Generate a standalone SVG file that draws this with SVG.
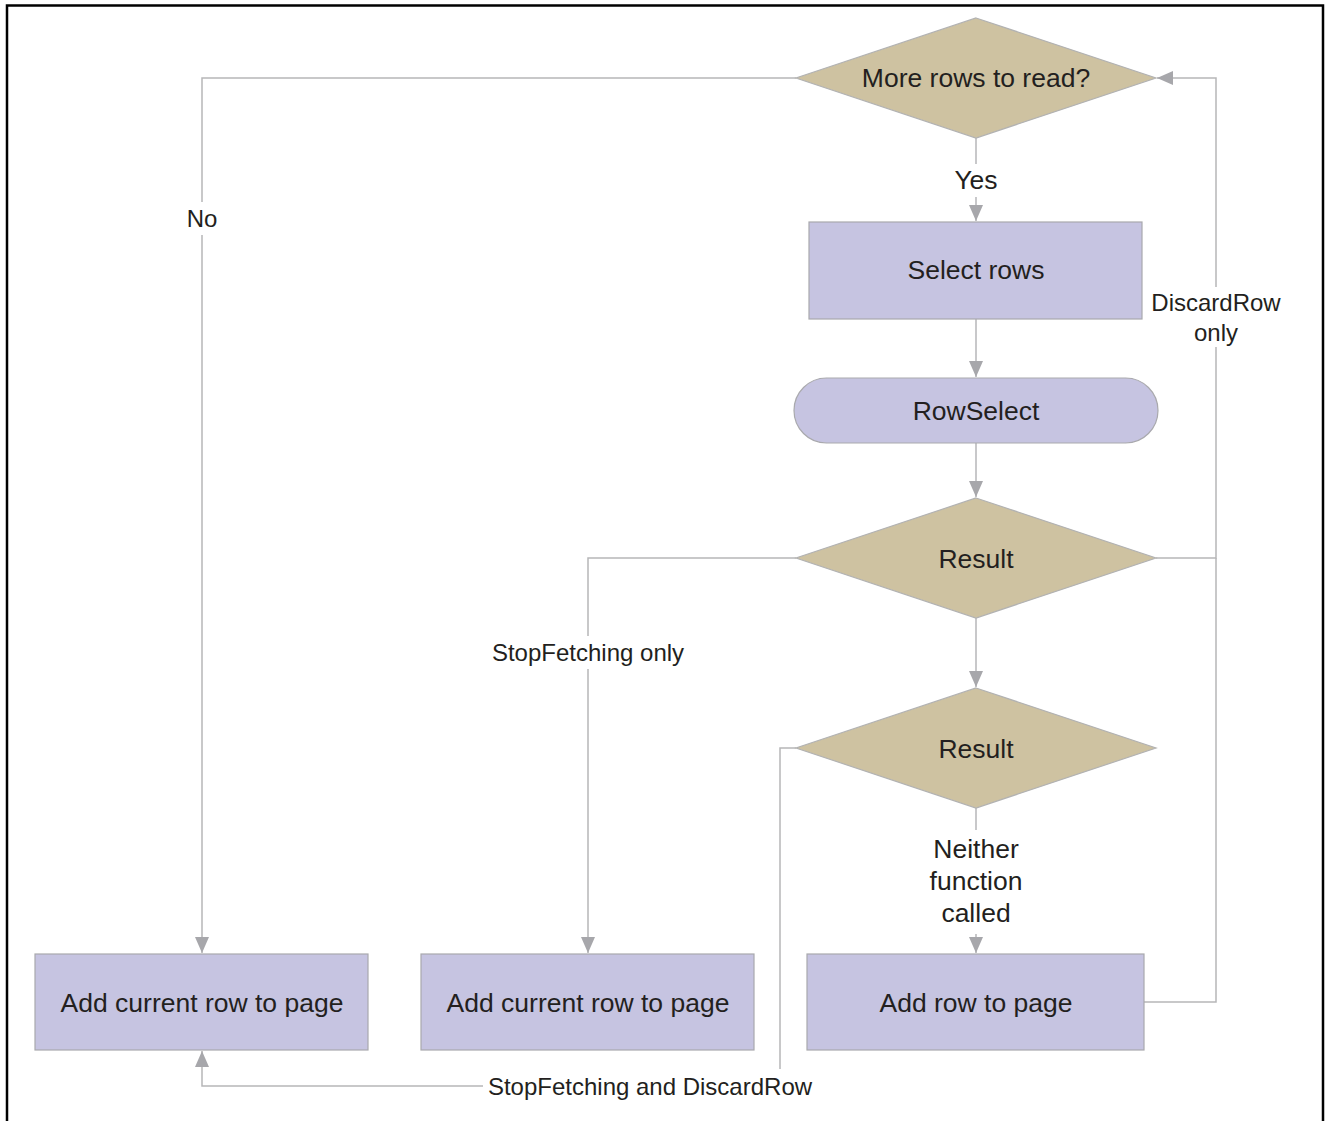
<svg xmlns="http://www.w3.org/2000/svg" width="1325" height="1121" viewBox="0 0 1325 1121">
  <defs>
    <marker id="arrow" viewBox="0 0 16 14" refX="16" refY="7" markerWidth="16" markerHeight="14" markerUnits="userSpaceOnUse" orient="auto">
      <path d="M0,0 L16,7 L0,14 Z" fill="#a7a7ab"/>
    </marker>
    <style>
      .box { fill: #c6c4e1; stroke: #a9a9ad; stroke-width: 1.2; }
      .dec { fill: #cec2a1; stroke: #b2b2b2; stroke-width: 1.2; }
      .lbl { font-family: "Liberation Sans", Arial, sans-serif; font-size: 26.5px; fill: #231f20; text-anchor: middle; }
      .sm { font-size: 24px; }
      .wire { fill: none; stroke: #b6b6b8; stroke-width: 1.5; }
      .bg { fill: #ffffff; }
    </style>
  </defs>

  <rect x="0" y="0" width="1325" height="1121" fill="#ffffff"/>
  <!-- outer frame (open at the bottom) -->
  <path d="M7,1121 V5.5 H1323 V1121" fill="none" stroke="#000000" stroke-width="2.5"/>

  <g id="connectors">
    <!-- Yes -->
    <path class="wire" d="M976,138 V221" marker-end="url(#arrow)"/>
    <!-- Select rows -> RowSelect -->
    <path class="wire" d="M976,319 V377" marker-end="url(#arrow)"/>
    <!-- RowSelect -> Result -->
    <path class="wire" d="M976,443 V497" marker-end="url(#arrow)"/>
    <!-- Result -> Result -->
    <path class="wire" d="M976,618 V687" marker-end="url(#arrow)"/>
    <!-- Neither function called -->
    <path class="wire" d="M976,808 V953" marker-end="url(#arrow)"/>
    <!-- No -->
    <path class="wire" d="M796,78 H202 V953" marker-end="url(#arrow)"/>
    <!-- StopFetching only -->
    <path class="wire" d="M796,558 H588 V953" marker-end="url(#arrow)"/>
    <!-- DiscardRow only loop back -->
    <path class="wire" d="M1156,558 H1216 V78 H1157" marker-end="url(#arrow)"/>
    <!-- Add row to page loop back -->
    <path class="wire" d="M1144,1002 H1216 V558"/>
    <!-- StopFetching and DiscardRow -->
    <path class="wire" d="M796,748 H780 V1086 H202 V1051" marker-end="url(#arrow)"/>

    <!-- connector labels -->
    <rect class="bg" x="944" y="164" width="64" height="33"/>
    <text class="lbl" x="976" y="189">Yes</text>
    <rect class="bg" x="180" y="202" width="44" height="33"/>
    <text class="lbl sm" x="202" y="226.5">No</text>
    <rect class="bg" x="1146" y="287" width="140" height="60"/>
    <text class="lbl sm" x="1216" y="310.5">DiscardRow</text>
    <text class="lbl sm" x="1216" y="340.5">only</text>
    <rect class="bg" x="484" y="636" width="208" height="33"/>
    <text class="lbl sm" x="588" y="660.5">StopFetching only</text>
    <rect class="bg" x="920" y="830" width="112" height="104"/>
    <text class="lbl" x="976" y="857.5">Neither</text>
    <text class="lbl" x="976" y="889.5">function</text>
    <text class="lbl" x="976" y="921.5">called</text>
    <rect class="bg" x="483" y="1069" width="333" height="34"/>
    <text class="lbl sm" x="650" y="1094.5">StopFetching and DiscardRow</text>
  </g>

  <g id="more-rows">
    <polygon class="dec" points="976,18 1156,78 976,138 796,78"/>
    <text class="lbl" x="976" y="87">More rows to read?</text>
  </g>

  <g id="select-rows">
    <rect class="box" x="809" y="222" width="333" height="97"/>
    <text class="lbl" x="976" y="279">Select rows</text>
  </g>

  <g id="rowselect">
    <rect class="box" x="794" y="378" width="364" height="65" rx="32.5" ry="32.5"/>
    <text class="lbl" x="976" y="420">RowSelect</text>
  </g>

  <g id="result-1">
    <polygon class="dec" points="976,498 1156,558 976,618 796,558"/>
    <text class="lbl" x="976" y="567.5">Result</text>
  </g>

  <g id="result-2">
    <polygon class="dec" points="976,688 1156,748 976,808 796,748"/>
    <text class="lbl" x="976" y="757.5">Result</text>
  </g>

  <g id="add-current-row-1">
    <rect class="box" x="35" y="954" width="333" height="96"/>
    <text class="lbl" x="202" y="1011.5">Add current row to page</text>
  </g>

  <g id="add-current-row-2">
    <rect class="box" x="421" y="954" width="333" height="96"/>
    <text class="lbl" x="588" y="1011.5">Add current row to page</text>
  </g>

  <g id="add-row">
    <rect class="box" x="807" y="954" width="337" height="96"/>
    <text class="lbl" x="976" y="1011.5">Add row to page</text>
  </g>
</svg>
